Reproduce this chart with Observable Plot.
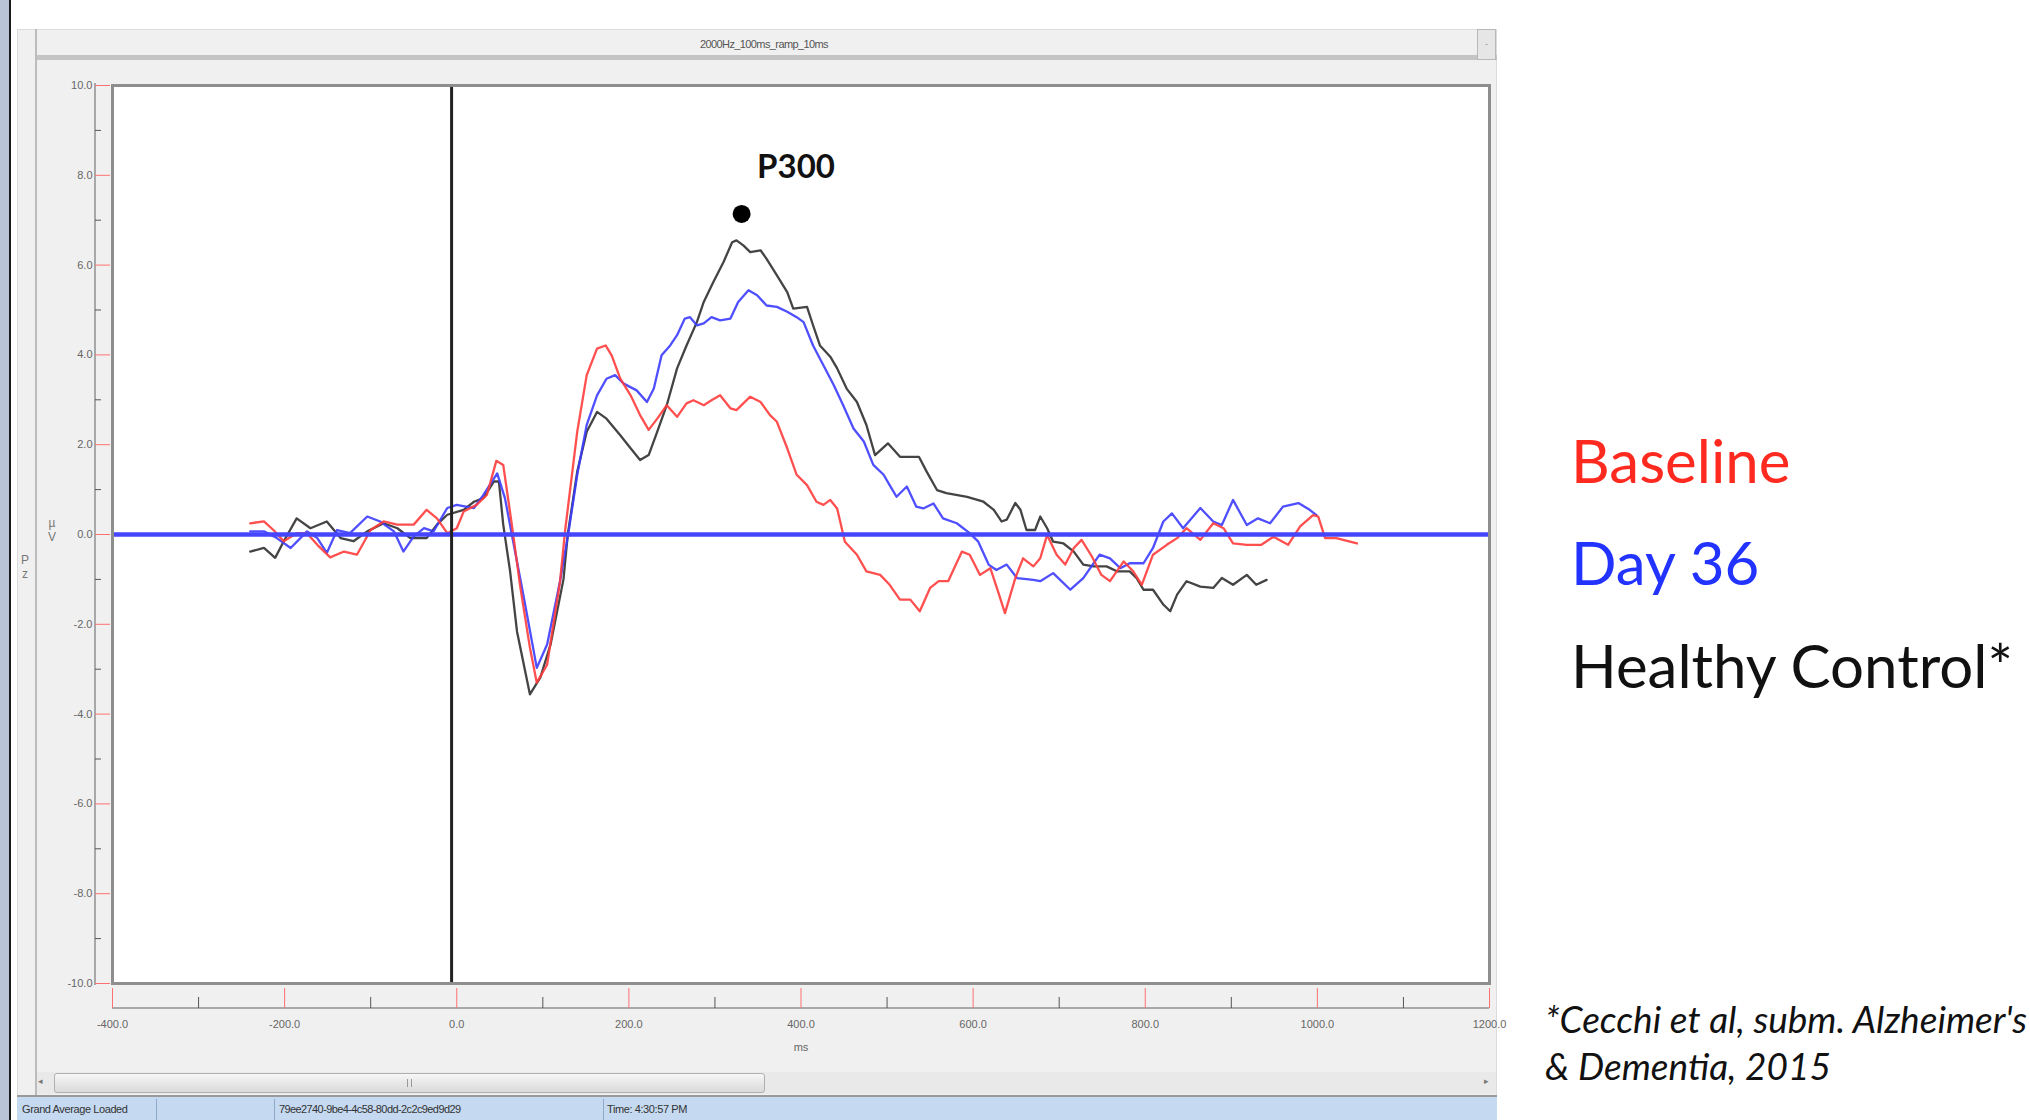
<!DOCTYPE html>
<html><head><meta charset="utf-8">
<script src="https://cdn.jsdelivr.net/npm/d3@7"></script>
<script src="https://cdn.jsdelivr.net/npm/@observablehq/plot@0.6"></script>
<style>
html,body{margin:0;padding:0;background:#fff;}
body{width:2030px;height:1120px;position:relative;overflow:hidden;font-family:"Liberation Sans",sans-serif;}
.a{position:absolute;}
#plot{position:absolute;left:0;top:0;z-index:2;}
#side{position:absolute;left:0;top:0;z-index:3;}
</style></head><body>
<!-- window chrome -->
<div class="a" style="left:0;top:0;width:9px;height:1120px;background:#b9c5d6"></div>
<div class="a" style="left:9px;top:0;width:2px;height:1120px;background:#1a1a1a"></div>
<div class="a" style="left:17px;top:29px;width:1480px;height:1091px;background:#f0f0f0;border:1px solid #dcdcdc;box-sizing:border-box"></div>
<div class="a" style="left:35px;top:29px;width:2px;height:1066px;background:#bcbcbc"></div>
<div class="a" style="left:37px;top:55px;width:1460px;height:5px;background:#c4c4c4"></div>
<div class="a" style="left:1477px;top:29px;width:19px;height:31px;background:#e6e6e6;border:1px solid #b8b8b8;box-sizing:border-box;font-size:9px;color:#999;text-align:center;line-height:28px">-</div>
<div class="a" style="left:564px;top:38px;width:400px;text-align:center;font-size:11px;color:#555;letter-spacing:-0.6px">2000Hz_100ms_ramp_10ms</div>
<div class="a" style="left:94px;top:83px;width:2px;height:902px;background:#a8a8a8"></div>
<div class="a" style="left:112px;top:1007px;width:1377px;height:2px;background:#a8a8a8"></div>
<div class="a" style="left:19px;top:553px;width:12px;font-size:12px;color:#777;text-align:center;line-height:14px">P<br>z</div>
<div class="a" style="left:46px;top:516px;width:12px;font-size:12px;color:#777;text-align:center;line-height:14px">µ<br>V</div>
<!-- scrollbar -->
<div class="a" style="left:37px;top:1072px;width:1459px;height:22px;background:#e9e9e9"></div>
<div class="a" style="left:38px;top:1076px;font-size:9px;color:#777">&#9666;</div>
<div class="a" style="left:1484px;top:1076px;font-size:9px;color:#777">&#9656;</div>
<div class="a" style="left:54px;top:1073px;width:711px;height:20px;border:1px solid #b0b0b0;border-radius:3px;box-sizing:border-box;background:linear-gradient(#f6f6f6,#dadada)"></div>
<div class="a" style="left:407px;top:1079px;width:3px;height:8px;border-left:1px solid #999;border-right:1px solid #999"></div>
<div class="a" style="left:17px;top:1095px;width:1480px;height:2px;background:#9a9a9a"></div>
<!-- status bar -->
<div class="a" style="left:17px;top:1097px;width:1480px;height:23px;background:#c5d9f1"></div>
<div class="a" style="left:156px;top:1099px;width:1px;height:21px;background:#8fa9cc"></div>
<div class="a" style="left:274px;top:1099px;width:1px;height:21px;background:#8fa9cc"></div>
<div class="a" style="left:603px;top:1099px;width:1px;height:21px;background:#8fa9cc"></div>
<div class="a" style="left:22px;top:1103px;font-size:11px;color:#333;letter-spacing:-0.4px">Grand Average Loaded</div>
<div class="a" style="left:279px;top:1103px;font-size:11px;color:#333;letter-spacing:-0.6px">79ee2740-9be4-4c58-80dd-2c2c9ed9d29</div>
<div class="a" style="left:607px;top:1103px;font-size:11px;color:#333;letter-spacing:-0.4px">Time: 4:30:57 PM</div>

<div id="plot"></div>
<svg id="side" width="2030" height="1120" style="pointer-events:none">
  <text x="1571" y="483" font-family="Lato" font-size="60" fill="#ff2a1f">Baseline</text>
  <text x="1571" y="585" font-family="Lato" font-size="60" fill="#2233ff">Day 36</text>
  <text x="1571" y="688" font-family="Lato" font-size="60" fill="#111">Healthy Control*</text>
  <text x="1545" y="1033" font-family="Lato" font-style="italic" font-size="37" fill="#111">*Cecchi et al, subm. Alzheimer's</text>
  <text x="1545" y="1080" font-family="Lato" font-style="italic" font-size="37" fill="#111">&amp; Dementia, 2015</text>
</svg>

<script>
// ---- data (ms, µV) ----
const baseline = [[-240,0.25],[-224,0.29],[-213,0.1],[-201,-0.15],[-186,0.03],[-174,0.03],[-162,-0.23],[-147,-0.51],[-131,-0.38],[-116,-0.45],[-100,0.1],[-85,0.29],[-69,0.22],[-50,0.22],[-35,0.55],[-23,0.36],[-11,0.03],[0,0.14],[8,0.51],[23,0.66],[35,0.88],[46,1.64],[54,1.55],[64,0.22],[74,-1.19],[85,-2.52],[93,-3.3],[105,-2.9],[120,-1.05],[126,0.1],[140,2.29],[151,3.55],[163,4.14],[173,4.21],[180,3.99],[190,3.47],[202,3.1],[213,2.66],[223,2.33],[233,2.58],[244,2.88],[256,2.62],[267,2.92],[275,2.99],[287,2.88],[296,2.99],[306,3.1],[318,2.81],[325,2.77],[341,3.07],[353,2.95],[364,2.66],[372,2.51],[384,1.92],[395,1.33],[407,1.1],[418,0.73],[426,0.66],[434,0.77],[442,0.58],[451,-0.16],[465,-0.45],[476,-0.82],[492,-0.9],[503,-1.12],[515,-1.45],[527,-1.45],[538,-1.71],[550,-1.19],[560,-1.04],[571,-1.04],[587,-0.38],[596,-0.45],[608,-0.9],[620,-0.75],[629,-1.27],[637,-1.75],[649,-0.97],[658,-0.53],[670,-0.71],[678,-0.53],[686,-0.01],[697,-0.45],[707,-0.67],[717,-0.3],[726,-0.12],[738,-0.49],[749,-0.9],[759,-1.04],[775,-0.6],[786,-0.82],[796,-1.12],[809,-0.45],[825,-0.23],[837,-0.08],[848,0.14],[864,-0.12],[879,0.25],[891,0.14],[902,-0.2],[918,-0.23],[935,-0.23],[949,-0.05],[966,-0.23],[980,0.18],[995,0.43],[1001,0.4],[1009,-0.08],[1022,-0.08],[1046,-0.2]];

const day36 = [[-240,0.07],[-224,0.07],[-209,-0.08],[-193,-0.3],[-174,0.07],[-162,-0.08],[-151,-0.41],[-139,0.1],[-124,0.03],[-104,0.4],[-89,0.29],[-73,0.07],[-62,-0.38],[-50,-0.04],[-38,0.14],[-27,0.07],[-11,0.59],[0,0.66],[20,0.59],[31,0.88],[47,1.36],[56,0.81],[64,0],[78,-1.41],[93,-2.97],[105,-2.45],[120,-1.04],[130,0.07],[140,1.33],[151,2.44],[163,3.1],[174,3.47],[184,3.55],[194,3.36],[209,3.21],[221,2.95],[229,3.25],[238,3.99],[248,4.21],[256,4.44],[265,4.81],[271,4.84],[279,4.66],[287,4.7],[296,4.84],[306,4.77],[318,4.81],[327,5.18],[339,5.44],[349,5.33],[360,5.1],[372,5.07],[384,4.96],[395,4.84],[403,4.73],[414,4.21],[426,3.77],[438,3.33],[449,2.88],[461,2.36],[473,2.07],[484,1.55],[496,1.33],[503,1.1],[511,0.84],[523,1.07],[534,0.62],[542,0.58],[554,0.69],[565,0.36],[581,0.25],[596,0.03],[606,-0.16],[618,-0.67],[627,-0.79],[639,-0.67],[651,-0.97],[670,-1.01],[678,-1.04],[693,-0.86],[713,-1.23],[728,-0.97],[747,-0.45],[759,-0.53],[771,-0.75],[782,-0.64],[798,-0.64],[809,-0.3],[821,0.29],[831,0.47],[844,0.14],[864,0.59],[879,0.29],[889,0.21],[902,0.77],[918,0.21],[931,0.36],[945,0.25],[960,0.62],[978,0.7],[991,0.55],[999,0.43]];

const healthyControl = [[-240,-0.38],[-224,-0.3],[-211,-0.52],[-201,-0.15],[-186,0.36],[-170,0.14],[-151,0.29],[-135,-0.08],[-120,-0.15],[-104,0.07],[-85,0.25],[-69,0.14],[-54,-0.08],[-35,-0.08],[-23,0.22],[-11,0.44],[8,0.55],[20,0.73],[31,0.81],[43,1.18],[49,1.18],[54,0.22],[62,-0.82],[70,-2.16],[85,-3.56],[97,-3.19],[109,-2.45],[124,-1.0],[129,0],[140,1.4],[151,2.29],[163,2.73],[174,2.58],[190,2.21],[202,1.92],[213,1.66],[223,1.77],[233,2.29],[244,2.88],[256,3.7],[267,4.21],[279,4.73],[287,5.18],[298,5.62],[310,6.07],[320,6.51],[325,6.55],[333,6.44],[341,6.29],[353,6.33],[360,6.14],[372,5.77],[384,5.4],[391,5.03],[407,5.07],[414,4.66],[422,4.21],[434,3.96],[442,3.7],[453,3.25],[465,2.95],[476,2.44],[486,1.77],[501,2.03],[515,1.73],[527,1.73],[537,1.73],[546,1.4],[558,0.99],[569,0.92],[593,0.84],[612,0.73],[624,0.55],[633,0.29],[639,0.33],[649,0.7],[655,0.55],[662,0.1],[672,0.1],[678,0.4],[686,0.14],[693,-0.16],[705,-0.2],[717,-0.38],[728,-0.67],[740,-0.71],[755,-0.71],[767,-0.82],[782,-0.82],[790,-0.97],[798,-1.23],[809,-1.23],[821,-1.56],[829,-1.71],[837,-1.34],[848,-1.04],[864,-1.16],[879,-1.19],[889,-0.97],[902,-1.12],[918,-0.9],[929,-1.12],[941,-1.01]];

const xTicksMajor = [-400,-200,0,200,400,600,800,1000,1200];
const xTicksMinor = [-300,-100,100,300,500,700,900,1100];
const yTicksMajor = [-10,-8,-6,-4,-2,0,2,4,6,8,10];
const yTicksMinor = [-9,-7,-5,-3,-1,1,3,5,7,9];
const stimulusCursor = [-6];
const zeroLine = [0];
const p300Peak = [[331, 7.14]];
const p300Label = [[349, 8.18, "P300"]];
const xUnit = [[400, -10, "ms"]];

const fmt = d => d.toFixed(1);
const X = d => d[0], Y = d => d[1];

const chart = Plot.plot({
  width: 1500, height: 1100,
  marginLeft: 112, marginRight: 11, marginTop: 85, marginBottom: 117,
  style: {background: "transparent", fontFamily: "Liberation Sans", fontSize: "11px", overflow: "visible"},
  x: {domain: [-400, 1200]},
  y: {domain: [-10, 10]},
  marks: [
    Plot.frame({fill: "#ffffff", stroke: null}),
    Plot.line(healthyControl, {x: X, y: Y, stroke: "#303030", strokeWidth: 2.3, strokeOpacity: 0.9}),
    Plot.line(day36, {x: X, y: Y, stroke: "#3c3cff", strokeWidth: 2.3, strokeOpacity: 0.9}),
    Plot.line(baseline, {x: X, y: Y, stroke: "#ff3c3c", strokeWidth: 2.3, strokeOpacity: 0.9}),
    Plot.ruleY(zeroLine, {stroke: "#4646ff", strokeWidth: 4.5}),
    Plot.ruleX(stimulusCursor, {stroke: "#222", strokeWidth: 3}),
    Plot.frame({stroke: "#8e8e8e", strokeWidth: 3}),
    Plot.dot(p300Peak, {x: X, y: Y, r: 9, fill: "#000"}),
    Plot.text(p300Label, {x: X, y: Y, text: d => d[2], textAnchor: "start", lineAnchor: "middle",
      fontFamily: "Lato", fontWeight: "bold", fontSize: 33, fill: "#111"}),
    Plot.axisY({ticks: yTicksMajor, tickFormat: fmt, tickSize: 15, tickPadding: 3, dx: -2,
      stroke: "#ff7070", fill: "#666", label: null}),
    Plot.axisY({ticks: yTicksMinor, tickSize: 6, dx: -11, text: null, stroke: "#555", label: null}),
    Plot.axisX({ticks: xTicksMajor, tickFormat: fmt, tickSize: 20, tickPadding: 12, dy: 5,
      stroke: "#ff7070", fill: "#666", label: null}),
    Plot.axisX({ticks: xTicksMinor, tickSize: 11, dy: 14, text: null, stroke: "#555", label: null}),
    Plot.text(xUnit, {x: X, y: Y, text: d => d[2], dy: 64, fill: "#666", fontSize: 11})
  ]
});
document.getElementById("plot").appendChild(chart);
</script>
</body></html>
